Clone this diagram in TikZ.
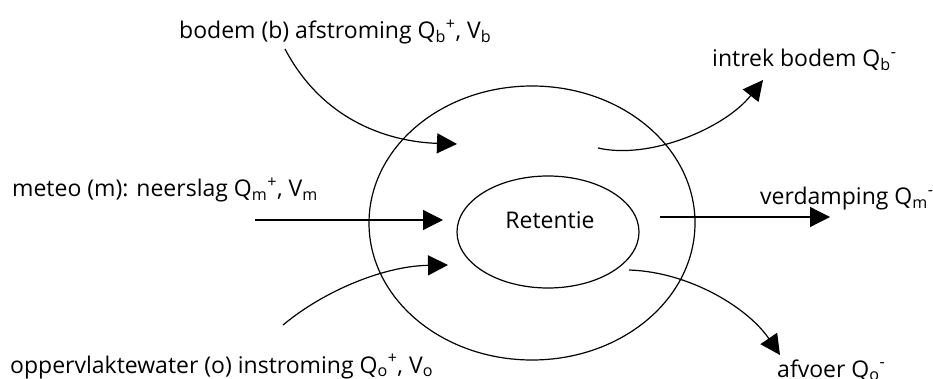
\documentclass[tikz,border=0pt]{standalone}
\usepackage{fontspec}
\setmainfont{Open Sans}
\usetikzlibrary{arrows.meta,shapes.geometric}
\begin{document}
\begin{tikzpicture}[x=1pt, y=-1pt, font=\fontsize{23}{27}\selectfont,
    flow/.style={-{Triangle[length=20pt,width=20pt]}, line width=1.2pt},
    lbl/.style={inner sep=0pt, anchor=base west}]
    \useasboundingbox (0,0) rectangle (933,379);

    % Reservoir with retention core
    \node[draw, ellipse, line width=1.2pt, minimum width=326pt, minimum height=274pt] (zone) at (532,223) {};
    \node[draw, ellipse, line width=1.2pt, minimum width=182pt, minimum height=112pt] (retentie) at (548,232) {};
    \node[inner sep=0pt] (retlbl) at (550,220) {Retentie};

    % Labels
    \node[lbl] (bodem) at (179,39) {bodem (b) afstroming Q\textsubscript{b}\textsuperscript{+}, V\textsubscript{b}};
    \node[lbl] (meteo) at (12,197) {meteo (m): neerslag Q\textsubscript{m}\textsuperscript{+}, V\textsubscript{m}};
    \node[lbl] (opp) at (10,373) {oppervlaktewater (o) instroming Q\textsubscript{o}\textsuperscript{+}, V\textsubscript{o}};
    \node[lbl] (intrek) at (712,67) {intrek bodem Q\textsubscript{b}\textsuperscript{-}};
    \node[lbl] (verdamp) at (760,205) {verdamping Q\textsubscript{m}\textsuperscript{-}};
    \node[lbl] (afvoer) at (777,377) {afvoer Q\textsubscript{o}\textsuperscript{-}};

    % Flow end points
    \coordinate (bS) at (285,49);
    \coordinate (bE) at (457,144);
    \coordinate (mS) at (255,220);
    \coordinate (mE) at (443,220);
    \coordinate (oS) at (283,325);
    \coordinate (oE) at (448,265);
    \coordinate (iS) at (598,148);
    \coordinate (iE) at (763,80);
    \coordinate (vS) at (660,217);
    \coordinate (vE) at (830,217);
    \coordinate (aS) at (629,270);
    \coordinate (aE) at (780,355);

    % Inflows
    \draw[flow] (bS) .. controls (325,125) and (395,142) .. (bE);
    \draw[flow] (mS) -- (mE);
    \draw[flow] (oS) .. controls (325,290) and (385,266) .. (oE);

    % Outflows
    \draw[flow] (iS) .. controls (650,160) and (725,128) .. (iE);
    \draw[flow] (vS) -- (vE);
    \draw[flow] (aS) .. controls (690,272) and (748,308) .. (aE);
\end{tikzpicture}
\end{document}
